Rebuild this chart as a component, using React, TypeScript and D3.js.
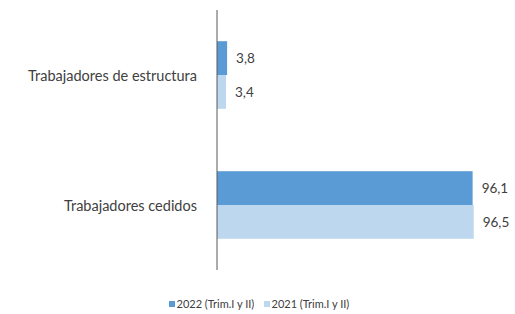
import React from "react";
import * as d3 from "d3";

const categories = ["Trabajadores de estructura", "Trabajadores cedidos"];
const seriesNames = ["2022 (Trim.I y II)", "2021 (Trim.I y II)"];
const values2022 = [3.8, 96.1];
const values2021 = [3.4, 96.5];
const colors = ["#5B9BD5", "#BDD7EE"];

const width = 515;
const height = 314;

export default function App() {
    const series = [values2022, values2021];

    const x = d3.scaleLinear().domain([0, 100]).range([217, 483]);
    const y = d3.scaleBand<string>().domain(categories).range([10, 270]).paddingInner(0.48).paddingOuter(0.24);
    const inner = d3.scaleBand<number>().domain([0, 1]).range([0, y.bandwidth()]);

    const font = "Lato, 'Open Sans', sans-serif";
    const legendX = [169, 264];

    return (
        <svg width={width} height={height} style={{ position: "absolute", left: 0, top: 0 }} fontFamily={font}>
            <rect width={width} height={height} fill="#fff" />
            {categories.map((c, ci) => (
                <g key={c}>
                    {series.map((vals, si) => {
                        const y0 = (y(c) ?? 0) + (inner(si) ?? 0);
                        return (
                            <g key={si}>
                                <rect
                                    x={x(0)}
                                    y={y0}
                                    width={x(vals[ci]) - x(0)}
                                    height={inner.bandwidth()}
                                    fill={colors[si]}
                                />
                                <text
                                    x={x(vals[ci]) + 9}
                                    y={y0 + inner.bandwidth() / 2}
                                    dy="0.35em"
                                    fontSize={13.5}
                                    fill="#404040"
                                >
                                    {d3.format(".1f")(vals[ci]).replace(".", ",")}
                                </text>
                            </g>
                        );
                    })}
                    <text
                        x={197}
                        y={(y(c) ?? 0) + y.bandwidth() / 2 + 1}
                        dy="0.35em"
                        textAnchor="end"
                        fontSize={14.5}
                        fill="#404040"
                    >
                        {c}
                    </text>
                </g>
            ))}
            <line x1={x(0)} x2={x(0)} y1={10} y2={270} stroke="#595959" strokeWidth={1} />
            {seriesNames.map((s, i) => (
                <g key={s}>
                    <rect x={legendX[i]} y={301} width={6} height={6} fill={colors[i]} />
                    <text x={legendX[i] + 7.5} y={304} dy="0.35em" fontSize={11} fill="#404040">
                        {s}
                    </text>
                </g>
            ))}
        </svg>
    );
}
